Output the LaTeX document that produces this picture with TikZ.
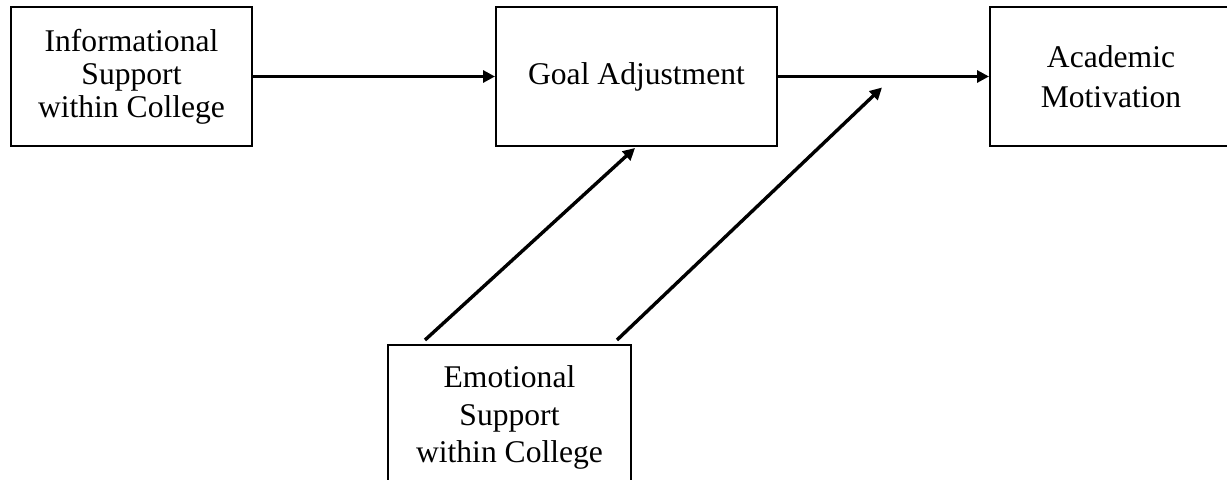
\documentclass[tikz,border=0pt]{standalone}
\usepackage{fontspec}
\setmainfont{Liberation Serif}
\usetikzlibrary{arrows.meta,calc}

\begin{document}
\begin{tikzpicture}[
  x=0.5pt, y=-0.5pt,
  box/.style={draw=black, line width=1pt, rectangle, inner sep=0pt, align=center,
    font=\fontsize{15.8pt}{16.4pt}\selectfont},
  link/.style={line width=1.7pt, -{Triangle[length=6pt,width=6pt]}}
]
  \clip (0,0) rectangle (1227,480);
  \fill[white] (0,0) rectangle (1227,480);

  % variables
  \node[box, minimum width=120.5pt, minimum height=69.5pt] (info) at (131.5,76.5)
    {Informational\\Support\\within College};
  \node[box, minimum width=140.5pt, minimum height=69.5pt] (goal) at (636.5,76.5)
    {Goal Adjustment};
  \node[box, minimum width=121pt, minimum height=69.5pt,
        font=\fontsize{15.8pt}{19.75pt}\selectfont] (acad) at (1111,76.5)
    {Academic\\Motivation};
  \node[box, minimum width=121.5pt, minimum height=72.5pt,
        font=\fontsize{15.8pt}{18.75pt}\selectfont] (emo) at (509.5,417.5)
    {Emotional\\Support\\within College};

  % anchor points for the moderation paths
  \coordinate (mid) at ($(goal.east)!0.5!(acad.west)$);
  \coordinate (modA) at ($(emo.north)+(-84.5,-4)$);
  \coordinate (modB) at ($(emo.north)+(107.5,-4)$);
  \coordinate (tipA) at ($(goal.south)+(-1.5,1)$);
  \coordinate (tipB) at ($(mid)+(-1.5,11)$);

  % paths
  \draw[link] (info.east) -- (goal.west);
  \draw[link] (goal.east) -- (acad.west);
  \draw[link] (modA) -- (tipA);
  \draw[link] (modB) -- (tipB);
\end{tikzpicture}
\end{document}
